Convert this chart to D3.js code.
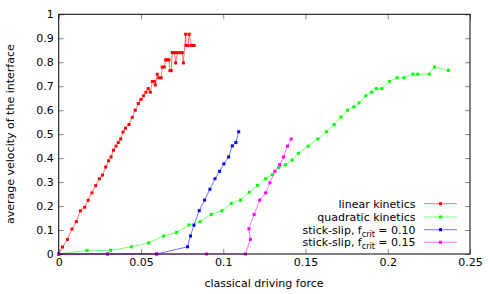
<!DOCTYPE html>
<html>
<head>
<meta charset="utf-8">
<script src="https://cdn.jsdelivr.net/npm/d3@7"></script>
<style>
  body { margin: 0; background: #fff; }
  text { font-family: "DejaVu Sans", sans-serif; }
</style>
</head>
<body>
<svg></svg>
<script>
// linear kinetics
var linX = [0, 0.0023, 0.0053, 0.0081, 0.0107, 0.0132, 0.0158, 0.0179, 0.0202, 0.0225, 0.0247, 0.0266, 0.0286, 0.0303, 0.0318, 0.0333, 0.0348, 0.0362, 0.0377, 0.0391, 0.0406, 0.0427, 0.0447, 0.0465, 0.0484, 0.0500, 0.0516, 0.0530, 0.0544, 0.0557, 0.0569, 0.0581, 0.0587, 0.0599, 0.0608, 0.0623, 0.0629, 0.0642, 0.0650, 0.0660, 0.0670, 0.0676, 0.0684, 0.0690, 0.0704, 0.0711, 0.0721, 0.0737, 0.0751, 0.0758, 0.0772, 0.0775, 0.0787, 0.0793, 0.0808, 0.0824];
var linY = [0, 0.029, 0.061, 0.104, 0.135, 0.18, 0.195, 0.224, 0.255, 0.285, 0.314, 0.329, 0.363, 0.389, 0.405, 0.433, 0.45, 0.465, 0.48, 0.509, 0.525, 0.54, 0.57, 0.60, 0.628, 0.645, 0.66, 0.675, 0.69, 0.675, 0.72, 0.72, 0.705, 0.75, 0.735, 0.735, 0.78, 0.78, 0.81, 0.81, 0.81, 0.765, 0.765, 0.84, 0.84, 0.797, 0.84, 0.84, 0.84, 0.797, 0.917, 0.87, 0.87, 0.917, 0.87, 0.87];

// quadratic kinetics
var quadX = [0, 0.0172, 0.0316, 0.0441, 0.0547, 0.0638, 0.0717, 0.0792, 0.0860, 0.0927, 0.0992, 0.1049, 0.1106, 0.1158, 0.1209, 0.1258, 0.1298, 0.1338, 0.1379, 0.1419, 0.1457, 0.1516, 0.1575, 0.1627, 0.1674, 0.1715, 0.1756, 0.1794, 0.1826, 0.1867, 0.1902, 0.1931, 0.1964, 0.2010, 0.2057, 0.2099, 0.2153, 0.2182, 0.2252, 0.2284, 0.2369];
var quadY = [0, 0.015, 0.015, 0.03, 0.046, 0.075, 0.09, 0.121, 0.135, 0.165, 0.18, 0.211, 0.225, 0.257, 0.286, 0.314, 0.331, 0.361, 0.372, 0.392, 0.42, 0.45, 0.48, 0.51, 0.54, 0.571, 0.60, 0.614, 0.63, 0.66, 0.675, 0.69, 0.69, 0.72, 0.735, 0.735, 0.75, 0.75, 0.75, 0.78, 0.766];

// stick-slip, fcrit = 0.10
var ss10X = [0, 0.0297, 0.0595, 0.0783, 0.0801, 0.0822, 0.0854, 0.0887, 0.0919, 0.0950, 0.0978, 0.1004, 0.1033, 0.1055, 0.1077, 0.1094];
var ss10Y = [0, 0, 0, 0.03, 0.075, 0.12, 0.181, 0.225, 0.27, 0.314, 0.345, 0.376, 0.405, 0.451, 0.465, 0.51];

// stick-slip, fcrit = 0.15
var ss15X = [0, 0.0297, 0.0597, 0.0899, 0.1135, 0.1165, 0.1156, 0.1188, 0.1222, 0.1258, 0.1284, 0.1314, 0.1343, 0.1367, 0.1391, 0.1413];
var ss15Y = [0, 0, 0, 0, 0, 0.061, 0.105, 0.165, 0.225, 0.255, 0.297, 0.345, 0.373, 0.405, 0.45, 0.48];

var xTicks = [0, 0.05, 0.1, 0.15, 0.2, 0.25];
var yTicks = [0, 0.1, 0.2, 0.3, 0.4, 0.5, 0.6, 0.7, 0.8, 0.9, 1];

var series = [
  {name: "linear kinetics", sub: null, color: "#ff0000", xs: linX, ys: linY},
  {name: "quadratic kinetics", sub: null, color: "#00ff00", xs: quadX, ys: quadY},
  {name: "stick-slip, f", sub: ["crit", " = 0.10"], color: "#0000ff", xs: ss10X, ys: ss10Y},
  {name: "stick-slip, f", sub: ["crit", " = 0.15"], color: "#ff00ff", xs: ss15X, ys: ss15Y}
];

var svgWidth = 491, svgHeight = 294;
var plotLeft = 58.7, plotRight = 470, plotTop = 14.3, plotBottom = 254;
var fontSize = 11;

var svg = d3.select("svg")
  .attr("width", svgWidth)
  .attr("height", svgHeight);

var xScale = d3.scaleLinear().domain([0, 0.25]).range([plotLeft, plotRight]);
var yScale = d3.scaleLinear().domain([0, 1]).range([plotBottom, plotTop]);

var fmt = function(d) { return String(+d.toFixed(2)); };

// ticks + labels
svg.append("g")
  .attr("transform", "translate(0," + plotBottom + ")")
  .call(d3.axisBottom(xScale).tickValues(xTicks).tickFormat(fmt).tickSizeInner(-5).tickSizeOuter(0).tickPadding(4));
svg.append("g")
  .attr("transform", "translate(" + plotLeft + ",0)")
  .call(d3.axisLeft(yScale).tickValues(yTicks).tickFormat(fmt).tickSizeInner(-5).tickSizeOuter(0).tickPadding(5));
svg.append("g")
  .attr("transform", "translate(0," + plotTop + ")")
  .call(d3.axisTop(xScale).tickValues(xTicks).tickFormat("").tickSizeInner(-5).tickSizeOuter(0));
svg.append("g")
  .attr("transform", "translate(" + plotRight + ",0)")
  .call(d3.axisRight(yScale).tickValues(yTicks).tickFormat("").tickSizeInner(-5).tickSizeOuter(0));

svg.selectAll(".domain").remove();
svg.selectAll(".tick line").attr("stroke", "#888");
svg.selectAll(".tick text").attr("font-size", fontSize).attr("fill", "#000")
  .style("font-family", "'DejaVu Sans', sans-serif");

// data
var line = d3.line()
  .x(function(d) { return xScale(d[0]); })
  .y(function(d) { return yScale(d[1]); });

series.forEach(function(s) {
  var pts = s.xs.map(function(x, i) { return [x, s.ys[i]]; });
  var g = svg.append("g");
  g.append("path")
    .attr("d", line(pts))
    .attr("fill", "none")
    .attr("stroke", s.color)
    .attr("stroke-opacity", 0.55)
    .attr("stroke-width", 1);
  g.selectAll("rect")
    .data(pts)
    .enter()
    .append("rect")
    .attr("x", function(d) { return xScale(d[0]) - 1.5; })
    .attr("y", function(d) { return yScale(d[1]) - 1.5; })
    .attr("width", 3)
    .attr("height", 3)
    .attr("fill", s.color);
});

// frame
svg.append("rect")
  .attr("x", plotLeft).attr("y", plotTop)
  .attr("width", plotRight - plotLeft).attr("height", plotBottom - plotTop)
  .attr("fill", "none").attr("stroke", "#000").attr("stroke-width", 1);

// axis titles
svg.append("text")
  .attr("x", 264)
  .attr("y", 287)
  .attr("text-anchor", "middle")
  .attr("font-size", fontSize)
  .text("classical driving force");

svg.append("text")
  .attr("transform", "translate(13.5," + ((plotTop + plotBottom) / 2) + ") rotate(-90)")
  .attr("text-anchor", "middle")
  .attr("font-size", fontSize)
  .text("average velocity of the interface");

// legend
var legendY = [203.7, 217, 229.7, 242.3];
series.forEach(function(s, i) {
  var y = legendY[i];
  var t = svg.append("text")
    .attr("x", 415.5)
    .attr("y", y + 4)
    .attr("text-anchor", "end")
    .attr("font-size", fontSize);
  t.append("tspan").text(s.name);
  if (s.sub) {
    t.append("tspan").attr("font-size", 8).attr("dy", 3).text(s.sub[0]);
    t.append("tspan").attr("dy", -3).text(s.sub[1]);
  }
  svg.append("line")
    .attr("x1", 424).attr("x2", 457)
    .attr("y1", y).attr("y2", y)
    .attr("stroke", s.color)
    .attr("stroke-opacity", 0.55);
  svg.append("rect")
    .attr("x", 440.5 - 1.5).attr("y", y - 1.5)
    .attr("width", 3).attr("height", 3)
    .attr("fill", s.color);
});
</script>
</body>
</html>
